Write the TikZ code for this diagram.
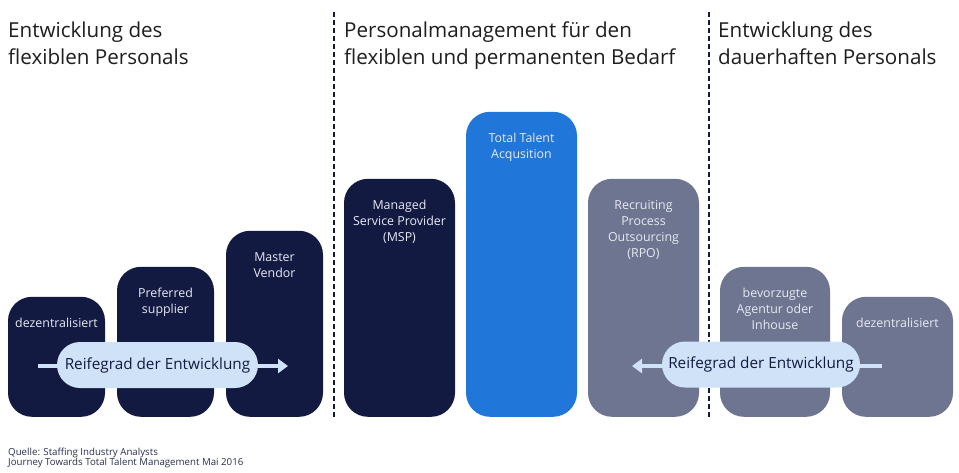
\documentclass[tikz,border=0pt]{standalone}
\usepackage{fontspec}
\setmainfont{Open Sans}
\usetikzlibrary{arrows.meta}
\definecolor{navy}{HTML}{121A42}
\definecolor{tblue}{HTML}{2176D9}
\definecolor{slate}{HTML}{6E7590}
\definecolor{pillc}{HTML}{D0E2F7}
\definecolor{boxtxt}{HTML}{E6E9F2}
\definecolor{headc}{HTML}{1E1E1E}
\definecolor{footc}{HTML}{2A3150}
\begin{document}
\begin{tikzpicture}[x=1pt,y=-1pt,
  col/.style={rectangle, rounded corners=24pt, inner sep=0pt, anchor=south, draw=none},
  smallcol/.style={col, minimum width=97pt},
  bigcol/.style={col, minimum width=111pt},
  lbl/.style={anchor=north, inner sep=0pt, align=center, text=boxtxt,
    font=\fontsize{12.4}{16}\selectfont},
  head/.style={anchor=north west, inner sep=0pt, align=left, text=headc,
    font=\fontsize{20.6}{27}\selectfont},
  pillnode/.style={rectangle, fill=pillc, rounded corners=23pt, minimum height=46pt,
    inner sep=0pt, text=navy, font=\fontsize{15.3}{17}\selectfont},
  flow/.style={draw=pillc, line width=4pt, -{Triangle[length=10pt,width=14pt]}},
  sep/.style={draw=navy, line width=1.3pt, dash pattern=on 5pt off 3pt},
  foot/.style={anchor=north west, inner sep=0pt, align=left, text=footc,
    font=\fontsize{9.7}{9}\selectfont}
]
\useasboundingbox[fill=white] (0,0) rectangle (959,472);

% headers
\node[head] (h1) at (8,21.5) {Entwicklung des\\flexiblen Personals};
\node[head] (h2) at (344,21.5) {Personalmanagement für den\\flexiblen und permanenten Bedarf};
\node[head] (h3) at (718,21.5) {Entwicklung des\\dauerhaften Personals};

% separators
\coordinate (s1t) at (334,12); \coordinate (s1b) at (334,417);
\coordinate (s2t) at (709,12); \coordinate (s2b) at (709,417);
\draw[sep] (s1t) -- (s1b);
\draw[sep] (s2t) -- (s2b);

% columns
\node[smallcol, fill=navy, minimum height=120pt] (b1) at (56.5,417) {};
\node[smallcol, fill=navy, minimum height=150pt] (b2) at (165.5,417) {};
\node[smallcol, fill=navy, minimum height=186pt] (b3) at (274.5,417) {};
\node[bigcol, fill=navy, minimum height=238pt] (b4) at (399.5,417) {};
\node[bigcol, fill=tblue, minimum height=305pt] (b5) at (521.5,417) {};
\node[bigcol, fill=slate, minimum height=238pt] (b6) at (643.5,417) {};
\node[bigcol, fill=slate, minimum height=150pt, minimum width=110pt] (b7) at (775,417) {};
\node[bigcol, fill=slate, minimum height=120pt] (b8) at (897.5,417) {};

% column labels
\node[lbl] (t1) at ([yshift=-21.5pt]b1.north) {dezentralisiert};
\node[lbl] (t2) at ([yshift=-21.5pt]b2.north) {Preferred\\supplier};
\node[lbl] (t3) at ([yshift=-21.5pt]b3.north) {Master\\Vendor};
\node[lbl] (t4) at ([yshift=-21.5pt]b4.north) {Managed\\Service Provider\\(MSP)};
\node[lbl] (t5) at ([yshift=-21.5pt]b5.north) {Total Talent\\Acqusition};
\node[lbl] (t6) at ([yshift=-21.5pt]b6.north) {Recruiting\\Process\\Outsourcing\\(RPO)};
\node[lbl] (t7) at ([yshift=-21.5pt]b7.north) {bevorzugte\\Agentur oder\\Inhouse};
\node[lbl] (t8) at ([yshift=-21.5pt]b8.north) {dezentralisiert};

% maturity arrows
\coordinate (a1s) at (38,366); \coordinate (a1e) at (288,366);
\coordinate (a2s) at (882,366); \coordinate (a2e) at (632,366);
\draw[flow] (a1s) -- (a1e);
\draw[flow] (a2s) -- (a2e);
\node[pillnode, minimum width=201pt] (p1) at (157.5,365) {Reifegrad der Entwicklung};
\node[pillnode, minimum width=198pt] (p2) at (761,364.5) {Reifegrad der Entwicklung};

% footer
\node[foot] (f1) at (8,447.5) {Quelle: Staffing Industry Analysts\\Journey Towards Total Talent Management Mai 2016};
\end{tikzpicture}
\end{document}
